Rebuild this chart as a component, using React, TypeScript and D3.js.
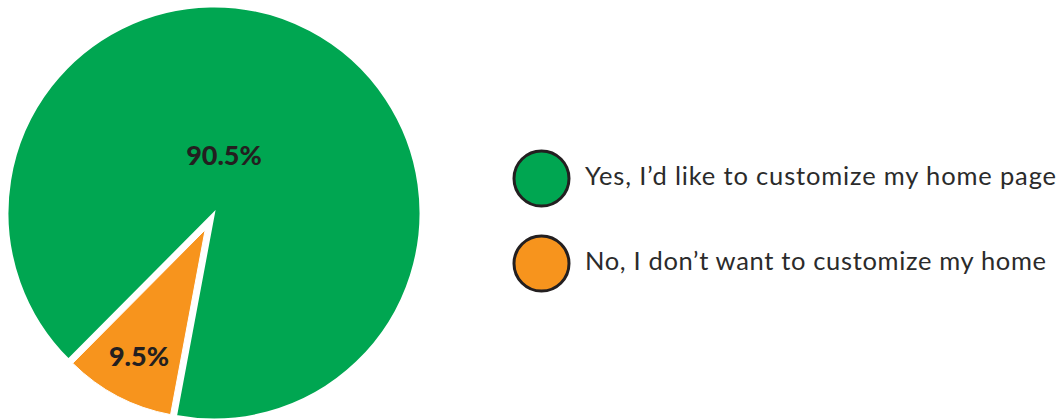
import React from "react";
import * as d3 from "d3";

const categories = ["Yes, I\u2019d like to customize my home page", "No, I don\u2019t want to customize my home"];
const values = [90.5, 9.5];
const valueLabels = ["90.5%", "9.5%"];
const colors = ["#00a651", "#f7941d"];

const W = 1064;
const H = 419;

export default function App() {
  const cx = 214;
  const cy = 213;
  const r = 206.5;
  const start = (224.8 * Math.PI) / 180;
  const pie = d3
    .pie<number>()
    .sort(null)
    .startAngle(start)
    .endAngle(start + 2 * Math.PI)
    .value((d) => d);
  const arcs = pie(values);
  const radii = [r, 188];
  const explode = [0, 19];
  const labelPos: [number, number][] = [
    [224, 154],
    [139, 355],
  ];
  const textLengths = [471, 461];

  const legendX = 541.5;
  const legendY = d3.scalePoint<string>().domain(categories).range([178.5, 263.5]);

  return (
    <div style={{ position: "fixed", left: 0, top: 0, width: W, height: H, background: "#fff" }}>
      <svg width={W} height={H} style={{ display: "block" }}>
        <g transform={`translate(${cx},${cy})`}>
          {arcs.map((a, i) => {
            const mid = (a.startAngle + a.endAngle) / 2;
            const dx = Math.sin(mid) * explode[i];
            const dy = -Math.cos(mid) * explode[i];
            const arc = d3.arc<d3.PieArcDatum<number>>().innerRadius(0).outerRadius(radii[i]);
            return (
              <path
                key={i}
                d={arc(a) || ""}
                transform={`translate(${dx},${dy})`}
                fill={colors[i]}
                stroke="#fff"
                strokeWidth={i === 0 ? 2 : 1}
                strokeLinejoin="miter"
              />
            );
          })}
        </g>
        {valueLabels.map((t, i) => (
          <text
            key={t}
            x={labelPos[i][0]}
            y={labelPos[i][1]}
            textAnchor="middle"
            dominantBaseline="central"
            fontFamily="Lato, 'Open Sans', sans-serif"
            fontWeight={900}
            fontSize={27}
            fill="#231f20"
          >
            {t}
          </text>
        ))}
        {categories.map((c, i) => (
          <g key={c} transform={`translate(${legendX},${legendY(c)})`}>
            <circle r={27.5} fill={colors[i]} stroke="#231f20" strokeWidth={3} />
            <text
              x={43.5}
              y={6.5}
              fontFamily="Lato, 'Open Sans', sans-serif"
              fontWeight={400}
              fontSize={25.5}
              textLength={textLengths[i]}
              lengthAdjust="spacing"
              fill="#2b2b2b"
            >
              {c}
            </text>
          </g>
        ))}
      </svg>
    </div>
  );
}
